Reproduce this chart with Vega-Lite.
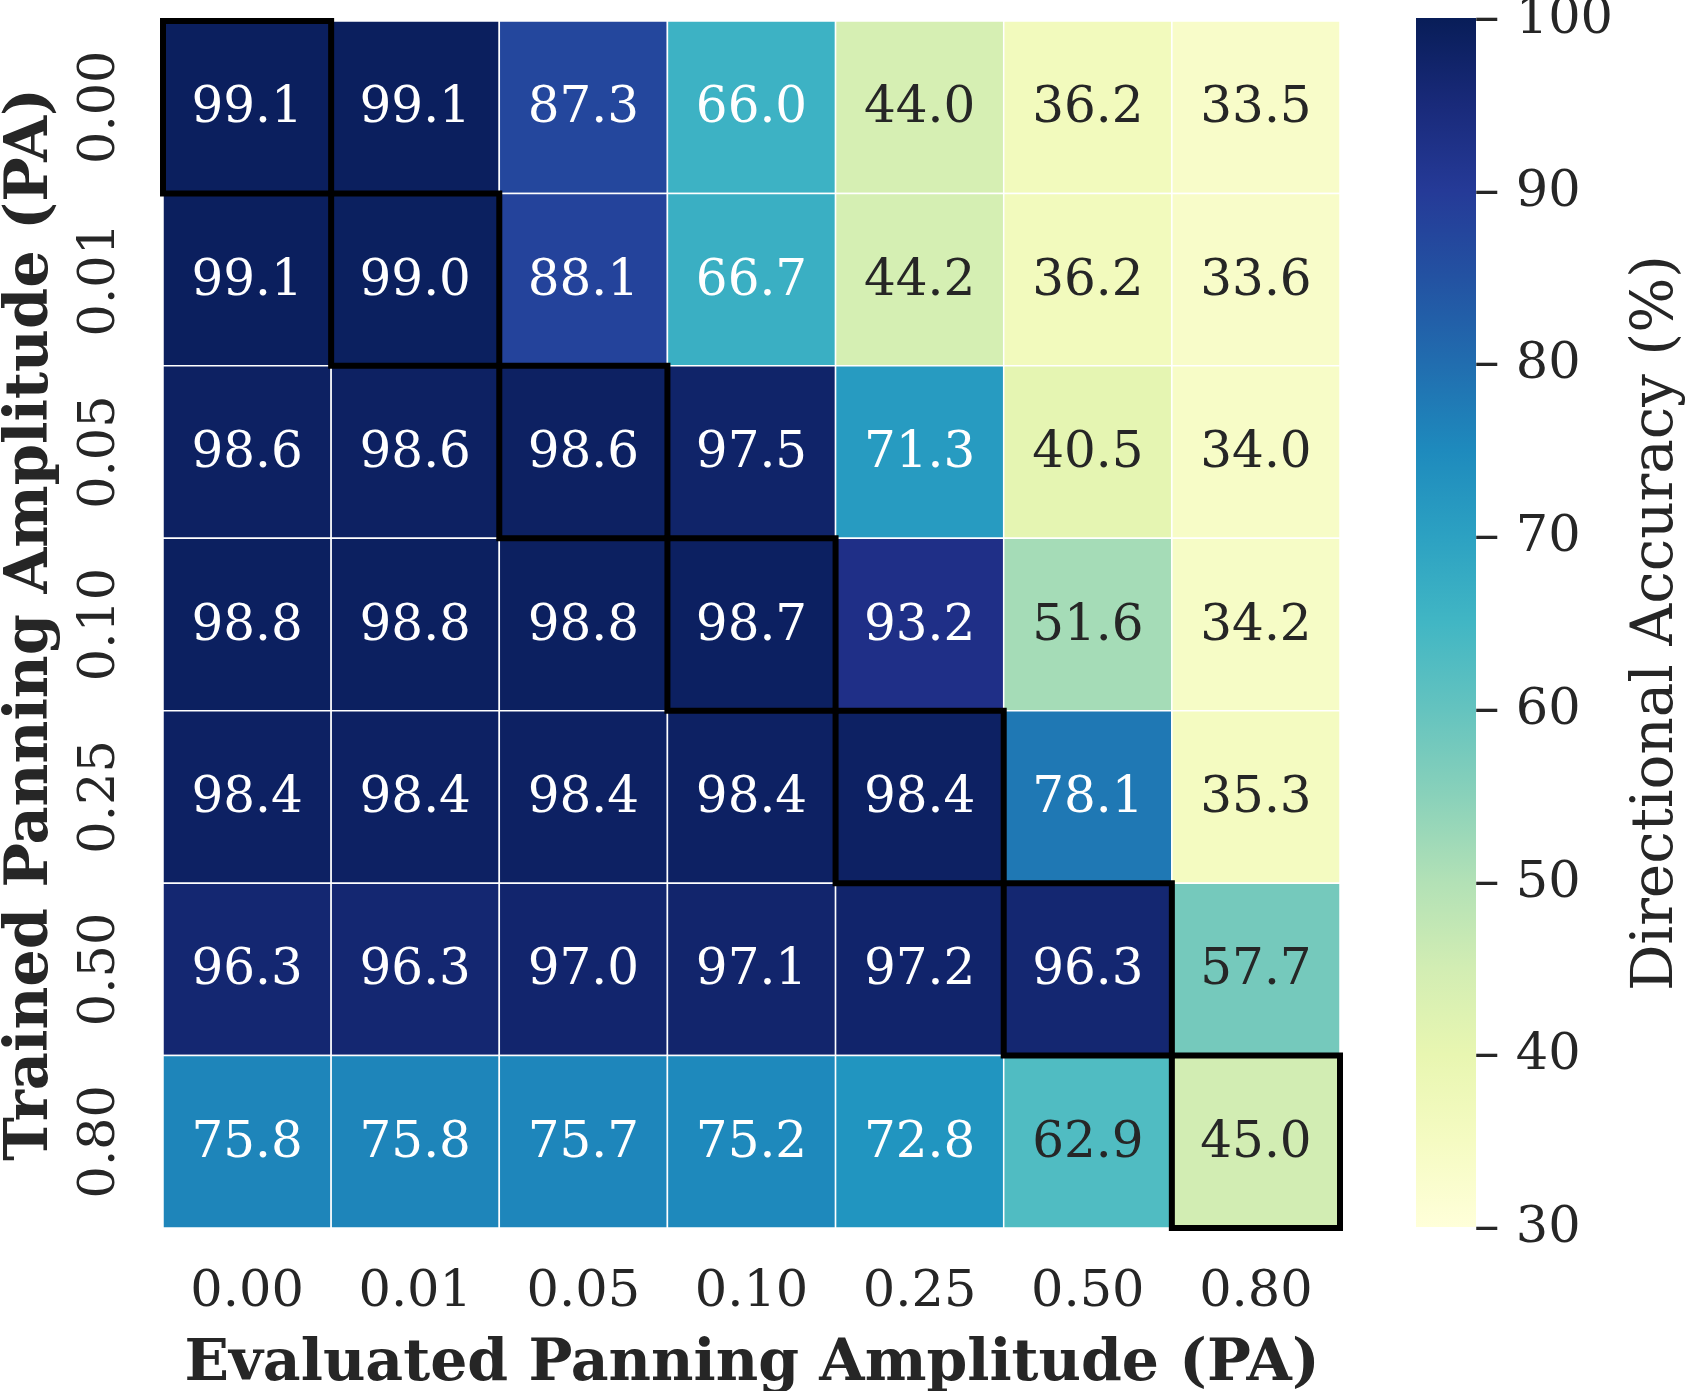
{
  "$schema": "https://vega.github.io/schema/vega-lite/v6.json",
  "width": 1177,
  "height": 1207,
  "autosize": {"type": "none"},
  "padding": {"left": 163, "top": 21, "right": 345, "bottom": 163},
  "background": "white",
  "config": {
    "view": {"stroke": null},
    "font": "DejaVu Serif",
    "axis": {"domain": false, "ticks": false, "labelColor": "#262626", "titleColor": "#262626", "labelFont": "DejaVu Serif", "titleFont": "DejaVu Serif"},
    "legend": {"labelFont": "DejaVu Serif", "titleFont": "DejaVu Serif"}
  },
  "data": {
    "values": [
      {"trained": "0.00", "evaluated": "0.00", "acc": 99.1},
      {"trained": "0.00", "evaluated": "0.01", "acc": 99.1},
      {"trained": "0.00", "evaluated": "0.05", "acc": 87.3},
      {"trained": "0.00", "evaluated": "0.10", "acc": 66.0},
      {"trained": "0.00", "evaluated": "0.25", "acc": 44.0},
      {"trained": "0.00", "evaluated": "0.50", "acc": 36.2},
      {"trained": "0.00", "evaluated": "0.80", "acc": 33.5},
      {"trained": "0.01", "evaluated": "0.00", "acc": 99.1},
      {"trained": "0.01", "evaluated": "0.01", "acc": 99.0},
      {"trained": "0.01", "evaluated": "0.05", "acc": 88.1},
      {"trained": "0.01", "evaluated": "0.10", "acc": 66.7},
      {"trained": "0.01", "evaluated": "0.25", "acc": 44.2},
      {"trained": "0.01", "evaluated": "0.50", "acc": 36.2},
      {"trained": "0.01", "evaluated": "0.80", "acc": 33.6},
      {"trained": "0.05", "evaluated": "0.00", "acc": 98.6},
      {"trained": "0.05", "evaluated": "0.01", "acc": 98.6},
      {"trained": "0.05", "evaluated": "0.05", "acc": 98.6},
      {"trained": "0.05", "evaluated": "0.10", "acc": 97.5},
      {"trained": "0.05", "evaluated": "0.25", "acc": 71.3},
      {"trained": "0.05", "evaluated": "0.50", "acc": 40.5},
      {"trained": "0.05", "evaluated": "0.80", "acc": 34.0},
      {"trained": "0.10", "evaluated": "0.00", "acc": 98.8},
      {"trained": "0.10", "evaluated": "0.01", "acc": 98.8},
      {"trained": "0.10", "evaluated": "0.05", "acc": 98.8},
      {"trained": "0.10", "evaluated": "0.10", "acc": 98.7},
      {"trained": "0.10", "evaluated": "0.25", "acc": 93.2},
      {"trained": "0.10", "evaluated": "0.50", "acc": 51.6},
      {"trained": "0.10", "evaluated": "0.80", "acc": 34.2},
      {"trained": "0.25", "evaluated": "0.00", "acc": 98.4},
      {"trained": "0.25", "evaluated": "0.01", "acc": 98.4},
      {"trained": "0.25", "evaluated": "0.05", "acc": 98.4},
      {"trained": "0.25", "evaluated": "0.10", "acc": 98.4},
      {"trained": "0.25", "evaluated": "0.25", "acc": 98.4},
      {"trained": "0.25", "evaluated": "0.50", "acc": 78.1},
      {"trained": "0.25", "evaluated": "0.80", "acc": 35.3},
      {"trained": "0.50", "evaluated": "0.00", "acc": 96.3},
      {"trained": "0.50", "evaluated": "0.01", "acc": 96.3},
      {"trained": "0.50", "evaluated": "0.05", "acc": 97.0},
      {"trained": "0.50", "evaluated": "0.10", "acc": 97.1},
      {"trained": "0.50", "evaluated": "0.25", "acc": 97.2},
      {"trained": "0.50", "evaluated": "0.50", "acc": 96.3},
      {"trained": "0.50", "evaluated": "0.80", "acc": 57.7},
      {"trained": "0.80", "evaluated": "0.00", "acc": 75.8},
      {"trained": "0.80", "evaluated": "0.01", "acc": 75.8},
      {"trained": "0.80", "evaluated": "0.05", "acc": 75.7},
      {"trained": "0.80", "evaluated": "0.10", "acc": 75.2},
      {"trained": "0.80", "evaluated": "0.25", "acc": 72.8},
      {"trained": "0.80", "evaluated": "0.50", "acc": 62.9},
      {"trained": "0.80", "evaluated": "0.80", "acc": 45.0}
    ]
  },
  "encoding": {
    "x": {
      "field": "evaluated",
      "type": "ordinal",
      "sort": ["0.00", "0.01", "0.05", "0.10", "0.25", "0.50", "0.80"],
      "scale": {"paddingInner": 0, "paddingOuter": 0},
      "axis": {
        "title": "Evaluated Panning Amplitude (PA)",
        "labelAngle": 0,
        "labelFontSize": 51,
        "labelPadding": 37,
        "labelBaseline": "top",
        "titleFontSize": 58.4,
        "titleFontWeight": "bold",
        "titleBaseline": "alphabetic",
        "titleY": 151
      }
    },
    "y": {
      "field": "trained",
      "type": "ordinal",
      "sort": ["0.00", "0.01", "0.05", "0.10", "0.25", "0.50", "0.80"],
      "scale": {"paddingInner": 0, "paddingOuter": 0},
      "axis": {
        "title": "Trained Panning Amplitude (PA)",
        "labelAngle": 270,
        "labelAlign": "center",
        "labelBaseline": "alphabetic",
        "labelFontSize": 51,
        "labelPadding": 50,
        "titleFontSize": 59,
        "titleFontWeight": "bold",
        "titleAngle": 270,
        "titleAlign": "center",
        "titleBaseline": "alphabetic",
        "titleX": -117,
        "titleY": 603
      }
    }
  },
  "layer": [
    {
      "mark": {"type": "rect", "stroke": "white", "strokeWidth": 1.5},
      "encoding": {
        "color": {
          "field": "acc",
          "type": "quantitative",
          "scale": {
            "domain": [30, 38.75, 47.5, 56.25, 65, 73.75, 82.5, 91.25, 100],
            "range": ["#ffffd9", "#edf8b1", "#c7e9b4", "#7fcdbb", "#41b6c4", "#1d91c0", "#225ea8", "#253494", "#081d58"],
            "interpolate": "rgb"
          },
          "legend": {
            "title": "Directional Accuracy (%)",
            "orient": "none",
            "legendX": 1253,
            "legendY": -3,
            "direction": "vertical",
            "gradientLength": 1209,
            "gradientThickness": 60,
            "gradientStrokeWidth": 0,
            "values": [30, 40, 50, 60, 70, 80, 90, 100],
            "labelExpr": "'– ' + datum.label",
            "labelFontSize": 51,
            "labelOffset": -2,
            "labelColor": "#262626",
            "labelOverlap": false,
            "titleOrient": "right",
            "titleFontSize": 58,
            "titleFontWeight": "normal",
            "titleColor": "#262626",
            "titleLimit": 3000,
            "titlePadding": 13,
            "encode": {
              "labels": {"update": {"baseline": {"value": "middle"}}},
              "title": {"update": {"angle": {"value": 270}, "baseline": {"value": "top"}, "align": {"value": "center"}}}
            }
          }
        }
      }
    },
    {
      "mark": {"type": "text", "fontSize": 50, "font": "DejaVu Serif"},
      "encoding": {
        "text": {"field": "acc", "type": "quantitative", "format": ".1f"},
        "color": {"condition": {"test": "datum.acc > 64", "value": "white"}, "value": "#262626"}
      }
    },
    {
      "transform": [{"filter": "datum.trained === datum.evaluated"}],
      "mark": {"type": "rect", "fill": null, "stroke": "black", "strokeWidth": 6},
      "encoding": {}
    }
  ]
}
